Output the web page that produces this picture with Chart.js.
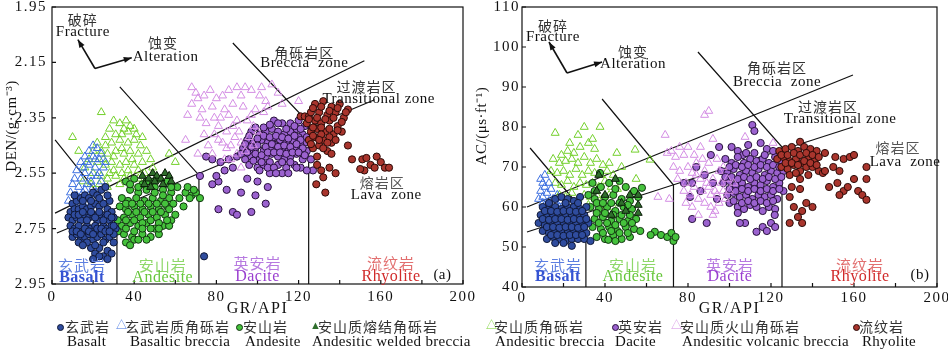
<!DOCTYPE html>
<html>
<head>
<meta charset="utf-8">
<script src="https://cdn.jsdelivr.net/npm/chart.js@4.4.1/dist/chart.umd.min.js"></script>
<style>
  body { margin: 0; background: #fff; width: 948px; height: 350px; position: relative; overflow: hidden;
         font-family: "Liberation Serif", "Noto Sans CJK SC", serif; }
  canvas { position: absolute; top: 0; }
  #panelA { left: 0; }
  #panelB { left: 470px; }
  .lg { position: absolute; white-space: nowrap; color: #111; }
  .zh { font-family: "Noto Sans CJK SC", sans-serif; font-size: 14px; letter-spacing: 1px; line-height: 16px; color: #333; }
  .en { font-size: 15px; letter-spacing: 0.3px; line-height: 16px; }
  .mk { position: absolute; }
</style>
</head>
<body>
<canvas id="panelA" width="482" height="318" style="width:482px;height:318px"></canvas>
<canvas id="panelB" width="478" height="318" style="width:478px;height:318px"></canvas>
<div id="legend"></div>
<script>
// ---- tick labels ----
const grTicks = [0, 20, 40, 60, 80, 100, 120, 140, 160, 180, 200];
const denTicks = [1.95, 2.15, 2.35, 2.55, 2.75, 2.95];
const acTicks = [40, 50, 60, 70, 80, 90, 100, 110];

// ---- series names ----
const seriesZh = ["玄武岩", "玄武岩质角砾岩", "安山岩", "安山质熔结角砾岩", "安山质角砾岩", "英安岩", "安山质火山角砾岩", "流纹岩"];
const seriesEn = ["Basalt", "Basaltic breccia", "Andesite", "Andesitic welded breccia", "Andesitic breccia", "Dacite", "Andesitic volcanic breccia", "Rhyolite"];

// ---- (a) GR vs DEN ----
const basaltDen = [
  [10,2.66],[12,2.65],[14,2.64],[16,2.63],[18,2.64],[20,2.62],[22,2.63],[24,2.61],[26,2.60],[28,2.65],
  [9,2.69],[11,2.68],[13,2.68],[15,2.67],[17,2.68],[19,2.67],[21,2.66],[23,2.67],[25,2.66],[27,2.68],[29,2.69],
  [8,2.71],[10,2.72],[12,2.71],[14,2.72],[16,2.70],[18,2.71],[20,2.70],[22,2.72],[24,2.70],[26,2.71],[28,2.72],[30,2.71],
  [9,2.74],[11,2.75],[13,2.74],[15,2.76],[17,2.74],[19,2.75],[21,2.74],[23,2.76],[25,2.74],[27,2.75],[29,2.74],[31,2.75],
  [10,2.78],[12,2.77],[14,2.79],[16,2.78],[18,2.77],[20,2.79],[22,2.78],[24,2.77],[26,2.79],[28,2.78],[30,2.77],
  [19,2.82],[21,2.84],[23,2.82],[25,2.85],[27,2.83],[29,2.84],[17,2.80],[74,2.85],
  [11,2.70],[13,2.70],[15,2.69],[17,2.72],[19,2.69],[21,2.71],[23,2.69],[25,2.72],[27,2.70],[29,2.71],
  [10,2.76],[12,2.76],[14,2.77],[16,2.75],[18,2.76],[20,2.77],[22,2.75],[24,2.75],[26,2.76],[28,2.76],[30,2.74],
  [11,2.63],[15,2.65],[19,2.65],[23,2.64],[27,2.63],[13,2.80],[15,2.81],[21,2.81],[25,2.80],[23,2.85],[20,2.86],[27,2.86],[30,2.80]
];
const basBrecciaDen = [
  [20,2.45],[22,2.46],[18,2.47],[24,2.48],[16,2.49],[20,2.49],[23,2.50],[26,2.51],[14,2.51],[18,2.52],
  [21,2.53],[25,2.53],[12,2.54],[16,2.55],[19,2.56],[22,2.56],[14,2.57],[24,2.58],[10,2.59],[13,2.60],
  [17,2.59],[20,2.60],[9,2.62],[12,2.63],[15,2.62],[18,2.63],[8,2.65],[11,2.66],[14,2.66],[10,2.68],[13,2.69],[16,2.67],
  [17,2.51],[21,2.50],[15,2.53],[23,2.55],[11,2.57],[19,2.58],[16,2.61],[21,2.62]
];
const andesiteDen = [
  [36,2.58],[40,2.57],[44,2.59],[48,2.58],[52,2.57],[56,2.58],[38,2.61],[42,2.62],[46,2.61],[50,2.60],[54,2.61],[58,2.62],
  [61,2.60],[65,2.62],[68,2.63],[70,2.62],[72,2.64],[62,2.64],
  [34,2.64],[37,2.65],[41,2.64],[45,2.65],[49,2.64],[53,2.65],[57,2.64],
  [33,2.67],[36,2.68],[40,2.67],[44,2.68],[48,2.67],[52,2.68],[56,2.67],[59,2.66],[64,2.67],
  [35,2.71],[39,2.70],[43,2.71],[47,2.70],[51,2.71],[55,2.70],[58,2.72],
  [34,2.74],[38,2.73],[42,2.74],[46,2.73],[50,2.75],[54,2.74],[57,2.74],
  [35,2.77],[39,2.78],[44,2.77],[48,2.78],[52,2.77],[36,2.80],[40,2.79],[46,2.79],[38,2.81],[32,2.72],[32,2.76],
  [38,2.59],[42,2.60],[46,2.58],[50,2.62],[54,2.63],[58,2.60],[36,2.66],[39,2.66],[43,2.66],[47,2.66],[51,2.66],[55,2.66],
  [37,2.69],[41,2.69],[45,2.69],[49,2.69],[53,2.69],[57,2.68],[36,2.72],[40,2.72],[44,2.73],[48,2.72],[52,2.73],[56,2.72],
  [36,2.75],[40,2.76],[44,2.75],[48,2.75],[52,2.75],[42,2.79],[60,2.70],[66,2.60],[69,2.61],[67,2.64]
];
const weldedDen = [[44,2.56],[47,2.57],[49,2.55],[51,2.56],[53,2.57],[55,2.55],[57,2.56],[45,2.59],[50,2.58],[54,2.59],[58,2.58],[48,2.60]];
const andBrecciaDen = [
  [10,2.42],[24,2.33],[33,2.37],[36,2.36],[38,2.38],[40,2.39],[41,2.41],[35,2.39],[31,2.41],[28,2.39],[26,2.42],[29,2.44],
  [33,2.43],[37,2.44],[40,2.43],[43,2.45],[22,2.44],[20,2.47],[24,2.47],[27,2.48],[31,2.47],[35,2.48],[38,2.47],[42,2.48],
  [46,2.47],[18,2.50],[22,2.51],[26,2.52],[29,2.51],[33,2.52],[36,2.51],[40,2.52],[44,2.51],[48,2.50],[16,2.53],[20,2.55],
  [24,2.56],[28,2.55],[31,2.56],[35,2.57],[38,2.56],[42,2.57],[45,2.55],[57,2.48],[60,2.51],[15,2.58],[19,2.59],[23,2.59],
  [27,2.60],[33,2.59],[39,2.60],[49,2.53],[13,2.47],[30,2.36],[44,2.42],
  [34,2.41],[37,2.40],[26,2.45],[30,2.49],[34,2.46],[39,2.50],[25,2.50],[30,2.54],[37,2.54],[42,2.54],[27,2.57],[34,2.55]
];
const daciteDen = [
  [108,2.36],[112,2.37],[116,2.37],[120,2.36],[123,2.38],
  [97,2.40],[101,2.41],[104,2.40],[107,2.39],[110,2.40],[113,2.41],[116,2.40],[119,2.39],[122,2.41],
  [95,2.43],[98,2.44],[102,2.43],[105,2.44],[108,2.42],[111,2.43],[114,2.44],[117,2.43],[120,2.42],[123,2.44],
  [93,2.46],[96,2.47],[99,2.46],[103,2.47],[106,2.46],[109,2.45],[112,2.46],[115,2.47],[118,2.46],[121,2.45],[124,2.47],
  [90,2.49],[94,2.50],[97,2.49],[101,2.50],[104,2.49],[107,2.48],[110,2.49],[113,2.50],[116,2.49],[119,2.48],[122,2.50],
  [96,2.52],[100,2.53],[103,2.52],[106,2.51],[110,2.52],[114,2.53],[118,2.52],[121,2.53],[112,2.55],[106,2.55],
  [75,2.49],[78,2.50],[82,2.51],[86,2.50],[84,2.54],[88,2.53],[81,2.58],[78,2.59],[85,2.61],[92,2.62],[99,2.63],
  [105,2.60],[104,2.66],[88,2.69],[97,2.69],[81,2.68],[90,2.70],[80,2.56],[95,2.57],[72,2.56],[100,2.58],[126,2.50],[127,2.54],[124,2.54],
  [99,2.385],[103,2.385],[106,2.375],[110,2.37],[114,2.39],[118,2.38],[121,2.39],
  [96,2.415],[100,2.425],[103,2.415],[106,2.42],[109,2.415],[112,2.42],[115,2.425],[118,2.415],[121,2.43],[124,2.42],
  [94,2.445],[97,2.455],[100,2.45],[104,2.455],[107,2.445],[110,2.455],[113,2.45],[116,2.455],[119,2.445],[122,2.46],
  [92,2.48],[95,2.475],[99,2.48],[102,2.485],[105,2.475],[108,2.475],[111,2.475],[114,2.48],[117,2.475],[120,2.475],[123,2.485],
  [98,2.505],[102,2.51],[105,2.53],[108,2.53],[112,2.51],[116,2.51],[119,2.53],[101,2.54],[109,2.55],[115,2.55]
];
const volBrecciaDen = [
  [68,2.24],[70,2.26],[71,2.28],[66,2.34],[65,2.43],[73,2.32],[78,2.31],[82,2.35],[86,2.25],[90,2.24],[94,2.24],
  [107,2.23],[101,2.27],[88,2.30],[93,2.31],[103,2.33],[98,2.38],[90,2.36],[85,2.40],[96,2.42],[120,2.29],[79,2.41],
  [71,2.48],[85,2.46],[92,2.53],[75,2.37],[80,2.28],[84,2.32],[88,2.38],[92,2.44],[95,2.36],[99,2.32],[104,2.29],
  [110,2.26],[76,2.45],[89,2.42],[94,2.47],[83,2.44],[100,2.40],[72,2.35],[87,2.50],[81,2.38],
  [74,2.27],[77,2.25],[83,2.27],[92,2.27],[97,2.25],[102,2.24],[105,2.31],[97,2.34],[86,2.34],[79,2.35],
  [74,2.41],[81,2.43],[91,2.40],[87,2.45],[98,2.45],[78,2.48],[90,2.48],[84,2.50],[68,2.30],[112,2.30]
];
const rhyoliteDen = [
  [128,2.30],[132,2.29],[136,2.31],[140,2.30],[144,2.32],[121,2.345],[123,2.345],[125,2.345],
  [126,2.33],[130,2.33],[134,2.34],[138,2.33],[142,2.35],[124,2.37],[128,2.36],[131,2.37],[135,2.36],[139,2.38],
  [126,2.40],[129,2.39],[133,2.40],[137,2.41],[141,2.40],[125,2.43],[128,2.42],[132,2.43],[136,2.44],[144,2.45],
  [127,2.46],[130,2.45],[134,2.47],[129,2.49],[129,2.52],[131,2.54],[135,2.53],[138,2.55],[128.6,2.59],[133,2.62],[132,2.565],
  [151,2.50],[153,2.495],[155,2.52],[158,2.49],[160,2.51],[162,2.53],[152,2.54],[157,2.53],[164,2.53],[150,2.535],[146,2.50],
  [127,2.315],[131,2.31],[135,2.325],[139,2.315],[143,2.33],[125,2.355],[129,2.35],[133,2.355],[137,2.35],[141,2.365],
  [127,2.385],[131,2.385],[135,2.39],[139,2.395],[127,2.415],[131,2.41],[135,2.42],[130,2.43],[134,2.44],[138,2.43],
  [126,2.445],[132,2.46],[136,2.48]
];

// ---- (b) GR vs AC ----
const basaltAc = [
  [16,62],[19,62.5],[22,62],[25,61.5],[28,62.5],
  [10,60],[13,59.5],[16,60],[19,59.5],[22,60],[25,60],[28,59.5],[31,60],
  [9,58],[12,57.5],[15,58],[18,57.5],[21,58],[24,58],[27,57.5],[30,58],
  [8,56],[11,55.5],[14,56],[17,56],[20,55.5],[23,56],[26,56],[29,55.5],[32,56],
  [10,54],[13,53.5],[16,54],[19,54],[22,53.5],[25,54],[28,54],[31,53.5],
  [12,52],[15,52.5],[18,52],[21,51.5],[24,52],[27,52],[30,52],[33,51.5],[24,50.3],[20,51],[16,51],
  [11,59],[14,59],[17,58.8],[20,59],[23,59],[26,58.8],[29,59],[10,57],[13,56.8],[16,57],[19,57],[22,56.8],[25,57],[28,56.8],[31,57],
  [12,55],[15,55],[18,54.8],[21,55],[24,55],[27,54.8],[30,55],[14,53],[17,53],[20,52.8],[23,53],[26,53],[29,53],[13,61],[21,61],[27,61]
];
const basBrecciaAc = [
  [9,67],[10,66],[11,65],[9,64],[12,63.5],[10,62.5],[13,61.5],[11,60.5],[14,60],[12,59],[16,61],[18,60],
  [15,62],[17,63],[13,66],[11,68],[19,61.5],[20,59.5],[14,64.5],[10,61],[8,62],[16,58.5],[21,61]
];
const andesiteAc = [
  [37.6,68.5],[34,66],[38,65],[42,66],[47,66.5],[50,65],[57.8,64.8],[56,62.5],
  [32,63],[35,62],[40,62.5],[44,63],[48,62],[52,61.5],[33,60],[37,59.5],[41,60],[45,59],[49,60],[53,59.5],
  [35,57],[39,57.5],[43,56.5],[47,57],[51,56.5],[55,57],[34,55],[38,54.5],[42,55],[46,54],[50,55],[54,54.5],[57,54],
  [36,52.5],[40,52],[44,53],[48,52],[41.6,51.8],[52,52.5],[64,53.8],[67,53],[70,52.5],[72,53.5],[73,51.5],[74,52.5],[62,53],
  [36,61],[39,61],[43,61],[47,61],[51,60.5],[36,58.5],[40,58.5],[44,58],[48,58],[52,58],[37,56],[41,56],[45,55.5],[49,56],[53,56],
  [39,53.5],[43,54],[47,53.5],[51,53.5],[45,51.5],[35,64],[45,64.5],[54,64]
];
const weldedAc = [[37,68],[45,67],[56,63],[56,60.5],[56,58.5],[52,63],[43,58],[48,61],[40,63],[50,59],[36,64]];
const andBrecciaAc = [
  [16,78.5],[30,80],[37.6,80],[34,77],[32,76],[28,75],[22,74],[25,73.5],[19,73],[35,74.5],[45.7,73.5],[54.5,74.3],[55,67],[61.7,71.8],
  [15,72],[18,71],[21,71.5],[24,72],[27,71],[30,72.5],[33,71],[36,72],[39,70.5],[42,71],
  [14,69],[17,68.5],[20,69],[23,68],[26,69.5],[29,68],[32,69],[35,68.5],[38,68],[41,69],[44,68],[48,70],
  [16,66],[19,65.5],[22,66.5],[25,65],[28,66],[31,65.5],[34,66],[37,65],[40,66.5],[43,65],[46,64.5],
  [18,63],[21,62.5],[24,63.5],[27,62],[30,63],[33,62.5],[36,63],[39,62],[42,63],[26,60],[32,60.5],[38,59.5],[44,60],[23,76],[27,78]
];
const daciteAc = [
  [111,80.5],[112,79],[101,75],[104,74],[106.5,73],[109,75.5],[115,76],[118,74.5],
  [98,72],[101,71],[104,72.5],[107,71],[110,72],[113,71.5],[116,72],[119,71],[122,72.5],[125,71],
  [96,69],[99,68.5],[102,69.5],[105,68],[108,69],[111,68.5],[114,69.5],[117,68],[120,69],[123,68.5],[126,69],
  [97,66],[100,66.5],[103,65.5],[106,66],[109,65],[112,66],[115,65.5],[118,66.5],[121,65],[124,66],
  [99,63],[102,63.5],[105,62.5],[108,63],[111,62],[114,63],[117,62.5],[120,63],[123,62],[126,64],
  [104,60],[107,59.5],[110,60.5],[113,60],[116,59],[119,60],[122,59.5],
  [78,66],[82,66],[81,62.5],[82,57],[89,56],[100,61],[104,58.5],[107.5,56],[113,53.8],[116,55],[118,54],[120,56],
  [122,55],[121.8,58],[105,56],[86,64],[92,66],[94,62],[88,68],[84,70],[91,73],[95,75],
  [100,70],[103,70.5],[106,70],[109,70.5],[112,70],[115,70.5],[118,70],[121,70.5],[124,70],
  [98,67.5],[101,67.5],[104,67],[107,67.5],[110,67],[113,67.5],[116,67],[119,67.5],[122,67],[125,67.5],
  [100,64.5],[103,64],[106,64.5],[109,64],[112,64.5],[115,64],[118,64.5],[121,64],[124,64.5],
  [102,61.5],[106,61],[109,61.5],[112,61],[115,61.5],[118,61],[121,61.5],[108,73.5],[112,73.5],[117,73],[121,74]
];
const volBrecciaAc = [
  [69,78],[70,73.5],[72,74],[74,72.5],[78,73],[80,70],[82,68.5],[84,71],[65.5,62.5],[71,62],
  [88,83],[90,84],[92,77],[107.5,77.5],[121,76],[86,75],
  [76,69],[79,66],[83,65],[86,67],[88,69],[90,65],[92,67],[94,63],[96,66],[98,62],[100,64],[85,62],[88,61],
  [91,60],[93,59],[87,64],[95,69],[81,63],[97,70],[90,71],[84,68],[102,66],[78,64],
  [73,70],[75,67],[80,75],[83,73],[87,72],[89,66],[91,63],[93,64],[95,61],[97,64],[99,67],[79,61],[82,60],[85,58],[92,58],[76,75],[94,72]
];
const rhyoliteAc = [
  [134,76.3],[124,74],[127,74.5],[130,75],[133,74],[136,75],[139,74.5],[142,74],[146,73.5],
  [123,72],[126,72.5],[129,71.5],[132,72],[135,71],[138,72.5],[141,71.5],
  [125,70],[128,69.5],[131,70.5],[134,69],[137,70],[140,70],[143,69],[145,68.5],
  [151,72.5],[155,72],[158,72.5],[160,73],[150,70],[153,69],
  [134,67],[134,64.5],[130,65],[152,66],[155,64],[153,63],[160,67],[162,64],[164,63],[166,70],[166,67],[166,61.8],[157,65],
  [129,62.5],[131,60],[135,59],[137,61],[129,56],[135,56],[140,60],[133,57.5],[146,69],[148,65],
  [125,73],[128,73],[131,73.5],[134,73],[137,73.5],[140,73],[143,72.5],[127,71],[130,71],[133,70.5],[136,71.5],[139,71],[142,70.5],
  [129,68],[132,68.5],[138,68]
];

// ---- looks ----
const SERIF = "'Liberation Serif', 'Noto Sans CJK SC', serif";
const CJK = "'Noto Sans CJK SC', sans-serif";
const styles = [
  { shape: "circle",   fill: "#2f4c9e", stroke: "#0f1836" },
  { shape: "triangle", fill: "rgba(0,0,0,0)", stroke: "#3c6fe0" },
  { shape: "circle",   fill: "#45c23c", stroke: "#123510" },
  { shape: "triangle", fill: "#2f6e2c", stroke: "#0a1c08" },
  { shape: "triangle", fill: "rgba(0,0,0,0)", stroke: "#74d02c" },
  { shape: "circle",   fill: "#9b62cf", stroke: "#26103a" },
  { shape: "triangle", fill: "rgba(0,0,0,0)", stroke: "#d48ee4" },
  { shape: "circle",   fill: "#a9352d", stroke: "#2a0a07" }
];
// first in list ends up on top
const drawOrder = [3, 0, 1, 2, 4, 7, 6, 5];

function makeDatasets(series) {
  return drawOrder.map(i => ({
    label: seriesEn[i],
    data: series[i].map(p => ({ x: p[0], y: p[1] })),
    pointStyle: styles[i].shape,
    pointRadius: styles[i].shape === "circle" ? 3.6 : 4.6,
    backgroundColor: styles[i].fill,
    borderColor: styles[i].stroke,
    borderWidth: 1
  }));
}

// zone boundaries, arrows and notes, in data units
const denDeco = {
  lines: [
    [[1.5, 2.43], [31.6, 2.708], [31.6, 2.95]],
    [[33, 2.238], [71.5, 2.557], [71.5, 2.95]],
    [[88, 2.08], [124.9, 2.368], [124.9, 2.95]],
    [[1.5, 2.694], [152, 2.144]],
    [[2.4, 2.766], [157, 2.285]]
  ],
  arrow: [[20.9, 2.172], [12.6, 2.068], [38.8, 2.133]],
  notes: [
    ["破碎", 15, 1.995, "zh"], ["Fracture", 15, 2.039, "en"],
    ["蚀变", 54, 2.078, "zh"], ["Alteration", 55.3, 2.129, "en"],
    ["角砾岩区", 122.8, 2.115, "zh"], ["Breccia  zone", 122.8, 2.154, "en"],
    ["过渡岩区", 153, 2.238, "zh"], ["Transitional zone", 159, 2.281, "en"],
    ["熔岩区", 160.7, 2.585, "zhGray"], ["Lava  zone", 162.6, 2.628, "en"],
    ["玄武岩", 14.6, 2.881, "zhBlue"], ["Basalt", 14.6, 2.928, "enBlue"],
    ["安山岩", 53.9, 2.881, "zhGreen"], ["Andesite", 53.9, 2.928, "enGreen"],
    ["英安岩", 100, 2.874, "zhPurple"], ["Dacite", 100, 2.925, "enPurple"],
    ["流纹岩", 165, 2.874, "zhRed"], ["Rhyolite", 165, 2.925, "enRed"],
    ["(a)", 190, 2.917, "en"]
  ],
  yTitle: "DEN/(g·cm⁻³)"
};
const acDeco = {
  lines: [
    [[3.9, 74.75], [30.8, 58.25], [30.8, 40]],
    [[38.6, 87], [73, 65.5], [73, 40]],
    [[84.8, 98.75], [125.3, 75], [125.3, 40]],
    [[2.4, 60], [159.5, 93]],
    [[2.4, 53.75], [159.5, 80]]
  ],
  arrow: [[21.7, 93.5], [13, 101.25], [38.6, 96.25]],
  notes: [
    ["破碎", 14.9, 105.25, "zh"], ["Fracture", 14.9, 102.5, "en"],
    ["蚀变", 53.5, 98.75, "zh"], ["Alteration", 53.5, 95.75, "en"],
    ["角砾岩区", 122.9, 94.75, "zh"], ["Breccia  zone", 122.9, 91.25, "en"],
    ["过渡岩区", 147.5, 85, "zh"], ["Transitional zone", 153.3, 82, "en"],
    ["熔岩区", 181.2, 74.75, "zhGray"], ["Lava  zone", 184.6, 71.25, "en"],
    ["玄武岩", 17.3, 45.5, "zhBlue"], ["Basalt", 17.3, 42.5, "enBlue"],
    ["安山岩", 53.5, 45.5, "zhGreen"], ["Andesite", 53.5, 42.5, "enGreen"],
    ["英安岩", 100.2, 45.5, "zhPurple"], ["Dacite", 100.2, 42.5, "enPurple"],
    ["流纹岩", 162.9, 45.5, "zhRed"], ["Rhyolite", 162.9, 42.5, "enRed"],
    ["(b)", 191.8, 43, "en"]
  ],
  yTitle: "AC/(μs·ft⁻¹)"
};
const noteFonts = {
  zh: ["14px " + CJK, "#333"], zhGray: ["14px " + CJK, "#555"], en: ["15px " + SERIF, "#111"],
  zhBlue: ["15px " + CJK, "#5d7fe0"], enBlue: ["bold 16px " + SERIF, "#3553d2"],
  zhGreen: ["15px " + CJK, "#8fd86a"], enGreen: ["16px " + SERIF, "#66c63a"],
  zhPurple: ["15px " + CJK, "#b77ae0"], enPurple: ["16px " + SERIF, "#9a3fd0"],
  zhRed: ["15px " + CJK, "#e27070"], enRed: ["16px " + SERIF, "#d12b2b"]
};

function arrowHead(ctx, fx, fy, tx, ty) {
  const a = Math.atan2(ty - fy, tx - fx);
  ctx.beginPath();
  ctx.moveTo(tx, ty);
  ctx.lineTo(tx - 8 * Math.cos(a) + 3 * Math.sin(a), ty - 8 * Math.sin(a) - 3 * Math.cos(a));
  ctx.lineTo(tx - 8 * Math.cos(a) - 3 * Math.sin(a), ty - 8 * Math.sin(a) + 3 * Math.cos(a));
  ctx.closePath();
  ctx.fill();
}

function decoPlugin(deco, yTicks) {
  return {
    id: "deco",
    beforeDraw(chart) {
      chart.ctx.letterSpacing = "1.5px";
    },
    beforeDatasetsDraw(chart) {
      const { ctx, scales: { x, y } } = chart;
      ctx.save();
      ctx.strokeStyle = "#111";
      ctx.fillStyle = "#111";
      ctx.lineWidth = 1.2;
      deco.lines.forEach(l => {
        ctx.beginPath();
        l.forEach((p, i) => {
          const px = x.getPixelForValue(p[0]), py = y.getPixelForValue(p[1]);
          if (i) ctx.lineTo(px, py); else ctx.moveTo(px, py);
        });
        ctx.stroke();
      });
      const [c, a, b] = deco.arrow.map(p => [x.getPixelForValue(p[0]), y.getPixelForValue(p[1])]);
      ctx.lineWidth = 1.6;
      [a, b].forEach(t => {
        ctx.beginPath();
        ctx.moveTo(c[0], c[1]);
        ctx.lineTo(t[0], t[1]);
        ctx.stroke();
        arrowHead(ctx, c[0], c[1], t[0], t[1]);
      });
      ctx.restore();
    },
    afterDatasetsDraw(chart) {
      const { ctx, chartArea: ca, scales: { x, y } } = chart;
      ctx.save();
      ctx.strokeStyle = "#111";
      ctx.lineWidth = 1.2;
      ctx.strokeRect(ca.left, ca.top, ca.right - ca.left, ca.bottom - ca.top);
      ctx.beginPath();
      grTicks.forEach(v => {
        const px = x.getPixelForValue(v);
        ctx.moveTo(px, ca.bottom);
        ctx.lineTo(px, ca.bottom - 4);
      });
      yTicks.forEach(v => {
        const py = y.getPixelForValue(v);
        ctx.moveTo(ca.left, py);
        ctx.lineTo(ca.left + 4, py);
      });
      ctx.stroke();
      ctx.textAlign = "center";
      ctx.textBaseline = "middle";
      deco.notes.forEach(n => {
        const f = noteFonts[n[3]];
        ctx.font = f[0];
        ctx.fillStyle = f[1];
        ctx.letterSpacing = n[3].startsWith("zh") ? "1px" : "0.5px";
        ctx.fillText(n[0], x.getPixelForValue(n[1]), y.getPixelForValue(n[2]));
      });
      ctx.translate(12, 126);
      ctx.rotate(-Math.PI / 2);
      ctx.font = "15px " + SERIF;
      ctx.fillStyle = "#111";
      ctx.letterSpacing = "0.5px";
      ctx.fillText(deco.yTitle, 0, 0);
      ctx.restore();
    }
  };
}

function makePanel(id, series, yTicks, reverse, fmt, deco, padRight, xHeight, xPad, yPad) {
  return new Chart(document.getElementById(id), {
    type: "scatter",
    data: { datasets: makeDatasets(series) },
    options: {
      responsive: false,
      animation: false,
      layout: { padding: { top: 7, right: padRight, bottom: 0, left: 0 } },
      plugins: { legend: { display: false }, tooltip: { enabled: false } },
      scales: {
        x: {
          type: "linear", min: 0, max: 200,
          afterBuildTicks: s => { s.ticks = grTicks.map(v => ({ value: v })); },
          afterFit: s => { s.height = xHeight; s.paddingLeft = 0; s.paddingRight = 0; },
          grid: { display: false, drawTicks: false },
          border: { display: false },
          ticks: {
            autoSkip: false, maxRotation: 0, padding: xPad, color: "#111",
            font: { family: SERIF, size: 15 },
            callback: v => (v % 40 === 0 ? v : "")
          },
          title: { display: true, text: "GR/API", color: "#111", font: { family: SERIF, size: 16 }, padding: { top: 0, bottom: 0 } }
        },
        y: {
          type: "linear", min: yTicks[0], max: yTicks[yTicks.length - 1], reverse: reverse,
          afterBuildTicks: s => { s.ticks = yTicks.map(v => ({ value: v })); },
          afterFit: s => { s.width = 52; s.paddingTop = 0; s.paddingBottom = 0; },
          grid: { display: false, drawTicks: false },
          border: { display: false },
          ticks: { autoSkip: false, padding: yPad, color: "#111", font: { family: SERIF, size: 15 }, callback: fmt }
        }
      }
    },
    plugins: [decoPlugin(deco, yTicks)]
  });
}

makePanel("panelA",
  [basaltDen, basBrecciaDen, andesiteDen, weldedDen, andBrecciaDen, daciteDen, volBrecciaDen, rhyoliteDen],
  denTicks, true, v => v.toFixed(2), denDeco, 19, 34, 4, 5);
makePanel("panelB",
  [basaltAc, basBrecciaAc, andesiteAc, weldedAc, andBrecciaAc, daciteAc, volBrecciaAc, rhyoliteAc],
  acTicks, false, v => v, acDeco, 11, 31, 2, 2);

// ---- legend below both panels ----
const legendMarkX = [57, 117, 236, 311, 487, 612, 672, 853];
const legendZhX = [65, 125, 243, 318, 494, 618, 680, 859];
const legendEnX = [67, 130, 245, 312, 495, 615, 682, 862];
const legend = document.getElementById("legend");
seriesZh.forEach((zh, i) => {
  const st = styles[i];
  const mk = document.createElement("div");
  mk.className = "mk";
  if (st.shape === "circle") {
    mk.style.cssText = `left:${legendMarkX[i]}px;top:324px;width:5px;height:5px;border-radius:50%;background:${st.fill};border:1px solid ${st.stroke};`;
  } else {
    const filled = st.fill !== "rgba(0,0,0,0)";
    mk.style.cssText = `left:${legendMarkX[i] - 1}px;top:318px;font-size:11px;line-height:14px;color:${filled ? st.fill : st.stroke};`;
    mk.textContent = filled ? "▲" : "△";
  }
  legend.appendChild(mk);
  const z = document.createElement("div");
  z.className = "lg zh";
  z.style.left = legendZhX[i] + "px";
  z.style.top = "318px";
  z.textContent = zh;
  legend.appendChild(z);
  const e = document.createElement("div");
  e.className = "lg en";
  e.style.left = legendEnX[i] + "px";
  e.style.top = "333px";
  e.textContent = seriesEn[i];
  legend.appendChild(e);
});
</script>
</body>
</html>
